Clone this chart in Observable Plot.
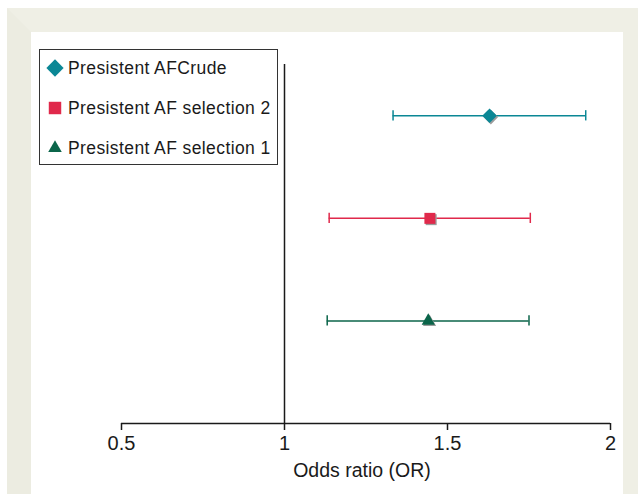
<!DOCTYPE html>
<html>
<head>
<meta charset="utf-8">
<script src="https://cdn.jsdelivr.net/npm/d3@7"></script>
<script src="https://cdn.jsdelivr.net/npm/@observablehq/plot@0.6"></script>
<style>
  html, body { margin: 0; padding: 0; background: #ffffff; }
  #wrap { position: relative; width: 638px; height: 494px; overflow: hidden; font-family: "Liberation Sans", Arial, Helvetica, sans-serif; }
  #frame { position: absolute; left: 7px; top: 8px; width: 592px; height: 520px;
           background: #ffffff;
           border-top: 24px solid #efefe5; border-left: 24px solid #ecece1; border-right: 15px solid #efefe5; }
  #chart { position: absolute; left: 0; top: 0; }
  #legend { position: absolute; left: 39px; top: 49px; width: 237px; height: 114px;
            border: 1px solid #333; background: #fff; box-sizing: content-box; }
  .item { position: absolute; left: 0; height: 20px; display: flex; align-items: center; }
  .item svg { width: 20px; height: 20px; margin-left: 5px; }
  .item span { margin-left: 3px; font-size: 17.5px; letter-spacing: 0.4px; color: #1a1a1a; white-space: nowrap; }
</style>
</head>
<body>
<div id="wrap">
  <div id="frame"></div>
  <div id="chart"></div>
  <div id="legend"></div>
</div>
<script>
const labels = ["Presistent AFCrude", "Presistent AF selection 2", "Presistent AF selection 1"];
const oddsRatio = [1.629, 1.446, 1.441];
const ciLow = [1.333, 1.137, 1.131];
const ciHigh = [1.924, 1.754, 1.750];
const rowPos = [3, 2, 1];
const symbols = ["diamond2", "square", "triangle"];
const colors = ["#0b8795", "#e0294b", "#0b654a"];
const xTicks = [0.5, 1, 1.5, 2];
const xDomain = [0.5, 2];
const yDomain = [0, 3.5];
const refValue = 1;
const xLabel = "Odds ratio (OR)";

const data = labels.map((label, i) => ({
  label, or: oddsRatio[i], lo: ciLow[i], hi: ciHigh[i], pos: rowPos[i], symbol: symbols[i], color: colors[i]
}));
const markerR = { diamond2: 6.6, square: 6.2, triangle: 4.9 };
const capHalf = 0.05;

const dotMarks = [];
data.forEach(d => {
  dotMarks.push(Plot.dot([d], { x: "or", y: "pos", symbol: d.symbol, r: markerR[d.symbol], fill: "#9c9c9c", dx: 1.3, dy: 1.3 }));
  dotMarks.push(Plot.dot([d], { x: "or", y: "pos", symbol: d.symbol, r: markerR[d.symbol], fill: d.color }));
});

const plot = Plot.plot({
  width: 638,
  height: 494,
  marginLeft: 121,
  marginRight: 28,
  marginTop: 64,
  marginBottom: 71,
  style: { background: "transparent", fontFamily: "'Liberation Sans', Arial, Helvetica, sans-serif", fontSize: "20px", color: "#1a1a1a" },
  x: { domain: xDomain, ticks: xTicks, tickFormat: d => String(d) },
  y: { domain: yDomain, axis: null },
  color: { domain: labels, range: colors },
  marks: [
    Plot.ruleX([refValue], { y1: yDomain[0], y2: yDomain[1], stroke: "#1a1a1a", strokeWidth: 1.5 }),
    Plot.ruleY([yDomain[0]], { stroke: "#1a1a1a", strokeWidth: 1.5 }),
    Plot.axisX({ ticks: xTicks, tickFormat: d => String(d), tickSize: 7, tickPadding: 5, stroke: "#1a1a1a", strokeWidth: 1.5, label: null, fontSize: 20 }),
    Plot.text([xLabel], { frameAnchor: "bottom", dy: 47, dx: -4, fontSize: 19.5, fill: "#1a1a1a", lineAnchor: "middle" }),
    Plot.ruleY(data, { y: "pos", x1: "lo", x2: "hi", stroke: "label", strokeWidth: 1.5 }),
    Plot.ruleX(data, { x: "lo", y1: d => d.pos - capHalf, y2: d => d.pos + capHalf, stroke: "label", strokeWidth: 1.5 }),
    Plot.ruleX(data, { x: "hi", y1: d => d.pos - capHalf, y2: d => d.pos + capHalf, stroke: "label", strokeWidth: 1.5 }),
    ...dotMarks
  ]
});
document.getElementById("chart").appendChild(plot);

// Legend
const legend = document.getElementById("legend");
const symMap = { diamond2: d3.symbolDiamond2, square: d3.symbolSquare, triangle: d3.symbolTriangle };
const legendSize = { diamond2: 190, square: 155, triangle: 80 };
const legendTops = [8, 48, 88];
data.forEach((d, i) => {
  const item = document.createElement("div");
  item.className = "item";
  item.style.top = legendTops[i] + "px";
  const svg = d3.create("svg").attr("viewBox", "-10 -10 20 20");
  svg.append("path").attr("d", d3.symbol(symMap[d.symbol], legendSize[d.symbol])()).attr("fill", d.color);
  item.appendChild(svg.node());
  const span = document.createElement("span");
  span.textContent = d.label;
  item.appendChild(span);
  legend.appendChild(item);
});
</script>
</body>
</html>
